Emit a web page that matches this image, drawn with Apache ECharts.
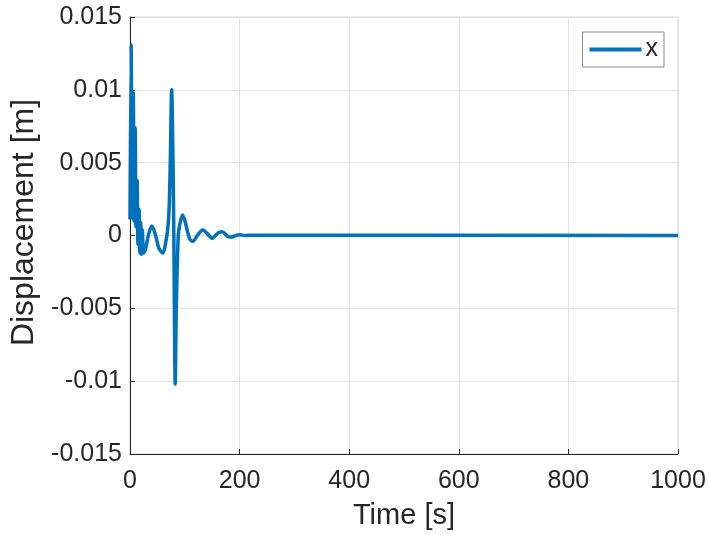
<!DOCTYPE html>
<html>
<head>
<meta charset="utf-8">
<script src="https://cdn.jsdelivr.net/npm/echarts@6/dist/echarts.min.js"></script>
<style>
html,body{margin:0;padding:0;background:#fff;}
#chart{width:709px;height:535px;}
</style>
</head>
<body>
<div id="chart"></div>
<script>
// Time [s]
var timeS = [0, 2, 4, 6, 7.5, 9.5, 11, 13, 14.5, 16.5, 18, 19.5, 21, 22.5, 25, 28, 34, 40, 46, 53, 60, 65, 69, 71.5, 73.5, 76, 78.5, 80, 81, 82.5, 84.5, 88, 91, 96, 101, 106, 110, 115, 121, 127, 133, 139, 144, 150, 156, 162, 168, 174, 180, 186, 193, 200, 210, 230, 1000];
// Displacement x [m]
var dispX = [0.0011, 0.0131, 0.0012, 0.0098, 0.0010, 0.0074, 0.0006, 0.0038, -0.0006, 0.0018, -0.0012, 0.0009, -0.0013, 0.0004, -0.0012, -0.0010, 0.0001, 0.00065, 0.0001, -0.0009, -0.0012, -0.0005, 0.0005, 0.0020, 0.0050, 0.0100, 0.0050, 0.0000, -0.0050, -0.0102, -0.0050, 0.0000, 0.0008, 0.0014, 0.0009, 0.0001, -0.0003, -0.0004, -0.0001, 0.0002, 0.0004, 0.0002, 0.0000, -0.0002, 0.0000, 0.0002, 0.00025, 0.0001, -0.0001, -0.0001, 0.0000, 0.00005, 0.0000, 0.00002, 0.0000];
var xTickLabels = ['0', '200', '400', '600', '800', '1000'];
var yTickLabels = ['-0.015', '-0.01', '-0.005', '0', '0.005', '0.01', '0.015'];
var seriesName = 'x';

var data = timeS.map(function (t, i) { return [t, dispX[i]]; });
var chart = echarts.init(document.getElementById('chart'));
var font = 'Liberation Sans, Arial, Helvetica, sans-serif';
chart.setOption({
  animation: false,
  backgroundColor: '#ffffff',
  grid: {left: 130, right: 31, top: 17, bottom: 80, show: true, borderColor: '#d4d4d4', borderWidth: 1, backgroundColor: 'transparent'},
  legend: {
    data: [{name: seriesName, icon: 'rect'}], right: 45, top: 32, orient: 'vertical',
    backgroundColor: '#ffffff', borderColor: '#8a8a8a', borderWidth: 1, borderRadius: 0,
    padding: [5, 6, 5, 7], itemWidth: 52, itemHeight: 4, itemGap: 5,
    itemStyle: {color: '#0072BD'},
    textStyle: {fontFamily: font, fontSize: 25, color: '#262626', padding: [0, 0, 0, -1]}
  },
  xAxis: {
    type: 'value', min: 0, max: 1000, interval: 200,
    name: 'Time [s]', nameLocation: 'middle', nameGap: 47,
    nameTextStyle: {fontFamily: font, fontSize: 29, color: '#262626'},
    axisLine: {show: true, onZero: false, lineStyle: {color: '#262626', width: 1}},
    axisTick: {show: true, inside: true, length: 5, lineStyle: {color: '#262626'}},
    axisLabel: {fontFamily: font, fontSize: 25, color: '#262626', margin: 15,
      formatter: function (v) { return xTickLabels[Math.round(v / 200)]; }},
    splitLine: {show: true, lineStyle: {color: '#e3e3e3', width: 1}}
  },
  yAxis: {
    type: 'value', min: -0.015, max: 0.015, interval: 0.005,
    name: 'Displacement [m]', nameLocation: 'middle', nameGap: 90,
    nameTextStyle: {fontFamily: font, fontSize: 32, color: '#262626', padding: [0, 0, 0, 26]},
    axisLine: {show: true, onZero: false, lineStyle: {color: '#262626', width: 1}},
    axisTick: {show: true, inside: true, length: 5, lineStyle: {color: '#262626'}},
    axisLabel: {fontFamily: font, fontSize: 25, color: '#262626', margin: 8,
      formatter: function (v) { var i = Math.round((v + 0.015) / 0.005); return yTickLabels[i]; }},
    splitLine: {show: true, lineStyle: {color: '#e3e3e3', width: 1}}
  },
  series: [{
    name: seriesName, type: 'line', data: data, showSymbol: false, symbol: 'none',
    smooth: 0.3, clip: true,
    lineStyle: {color: '#0072BD', width: 3.5},
    itemStyle: {color: '#0072BD'}
  }]
});
</script>
</body>
</html>
